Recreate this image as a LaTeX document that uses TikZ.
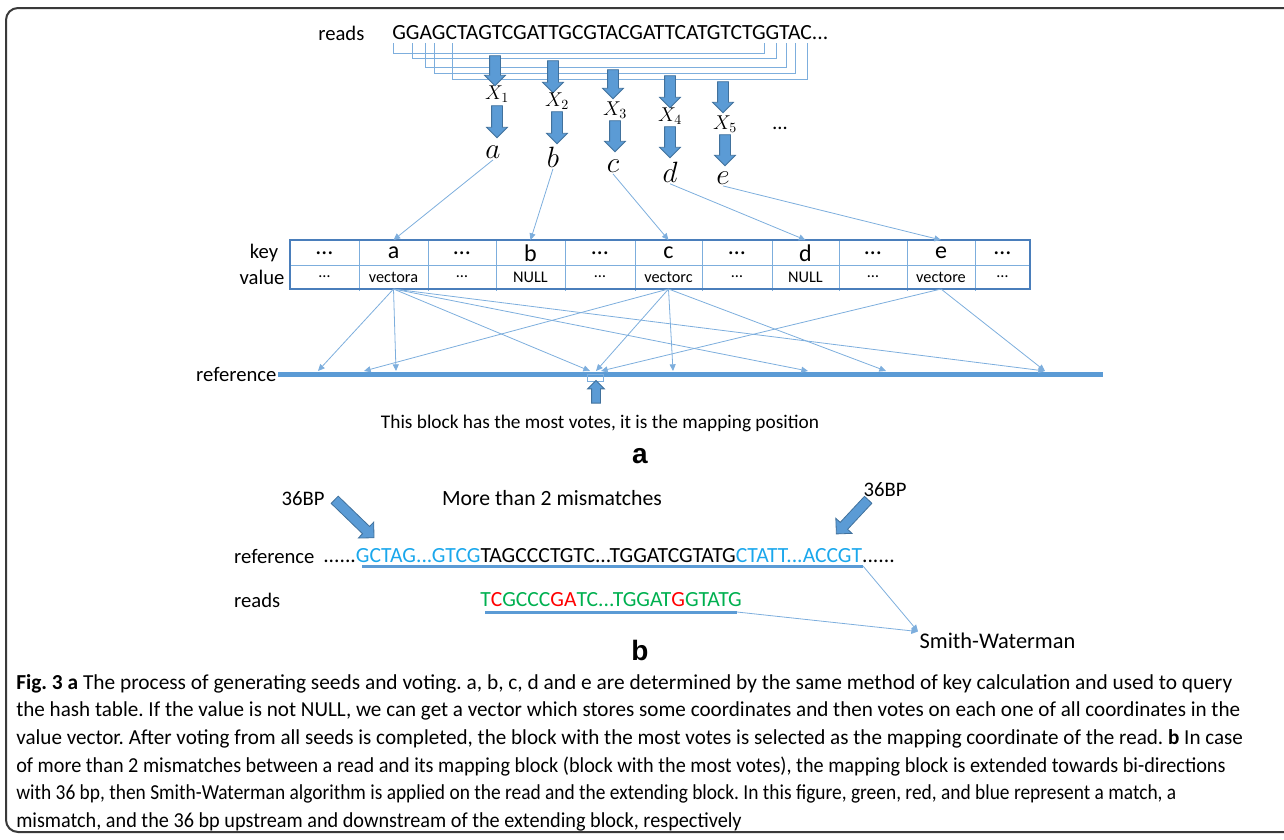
\RequirePackage{fix-cm}
\documentclass[tikz,border=0pt]{standalone}
\usepackage{fontspec}
\setmainfont{Carlito}
\newfontfamily\panelfont{Liberation Sans}
\usetikzlibrary{
  arrows.meta,
  shapes.arrows
}
\definecolor{arrowblue}{HTML}{5B9BD5}
\definecolor{arrowedge}{HTML}{41719C}
\definecolor{thinblue}{HTML}{7DAEDD}
\definecolor{tableblue}{HTML}{4A7EBB}
\definecolor{seqblue}{HTML}{1AA7EC}
\definecolor{matchgreen}{HTML}{00B050}
\definecolor{mismatchred}{HTML}{FF0000}
\definecolor{framegray}{HTML}{3A3A3A}
% one caption line, brought to the width it has in the figure
\newcommand\capline[2]{\resizebox{#1}{\height}{#2}}

\begin{document}
\frenchspacing
\begin{tikzpicture}[
  x=0.75pt, y=-0.75pt,
  txt/.style={inner sep=1pt, font=\fontsize{15.5}{18}\selectfont},
  seq/.style={inner sep=0pt, font=\fontsize{16.2}{19}\selectfont},
  seedlabel/.style={inner sep=1pt, font=\fontsize{15}{18}\selectfont},
  hit/.style={inner sep=1pt, font=\fontsize{22}{24}\selectfont},
  keycell/.style={inner sep=0pt, font=\fontsize{18}{20}\selectfont},
  valcell/.style={inner sep=0pt, font=\fontsize{12.2}{14}\selectfont},
  vote/.style={-{Triangle[length=5pt,width=4.5pt]}, draw=thinblue, line width=0.6pt},
  grid/.style={draw=thinblue, line width=0.6pt},
  fat/.style={single arrow, draw=arrowedge, fill=arrowblue, line width=0.6pt,
    inner xsep=0pt, inner ysep=3.75pt, minimum width=15pt, single arrow head extend=3.75pt},
  panel/.style={font=\panelfont\bfseries\fontsize{21}{24}\selectfont},
]
\useasboundingbox (0,0) rectangle (1284,839);
\draw[framegray, line width=1.5pt, rounded corners=9pt]
  (1290,8) -- (6,8) -- (6,832) -- (1290,832);

% seeds taken from the read
\node[txt, anchor=east] (readlab) at (366,33) {reads};
\node[seq, anchor=west] (reads) at (392,33)
  {GGAGCTAGTCGATTGCGTACGATTCATGTCTGGTAC...};
\foreach \l/\r/\y in {393/764/53, 412/776/58, 425/786/67, 434/795/73, 452/807/79}
  \draw[grid] (\l,43) |- (\r,\y) -- (\r,43);
\foreach \x/\ytop/\ybot [count=\i] in {495/53/83, 553/58/90, 613/67/96, 670/73/105, 723/79/110}
  \node[fat, rotate=-90, minimum height={(\ybot-\ytop)*0.75pt}] (up-\i) at (\x,{(\ytop+\ybot)/2}) {};
\foreach \x/\y [count=\i] in {497/94, 557/101, 615/110, 670/116, 725/124}
  \node[seedlabel] (x-\i) at (\x,\y) {$X_{\i}$};
\foreach \x/\ytop/\ybot [count=\i] in {497/103/135, 557/109/141, 615/118/149, 670/124/155, 725/132/163}
  \node[fat, rotate=-90, minimum height={(\ybot-\ytop)*0.75pt}] (down-\i) at (\x,{(\ytop+\ybot)/2}) {};
\foreach \c/\x/\y in {a/493/152, b/553/157, c/613/166, d/670/172, e/723/178}
  \node[hit] (\c) at (\x,\y) {$\c$};
\node[txt] (more) at (780,128) {\dots};

% hash table
\coordinate (tab-nw) at (290,240);
\coordinate (tab-se) at (1030,289);
\foreach \x in {359,428,496,565,635,702,772,839,907,975}
  \draw[grid] (\x,240) -- (\x,291);
\draw[grid] (290,265) -- (1030,265);
\draw[tableblue, line width=1.5pt] (tab-nw) rectangle (tab-se);
\foreach \k/\v/\x [count=\i] in {\dots/\dots/324.5, a/vectora/393.5, \dots/\dots/462,
    b/NULL/530.5, \dots/\dots/600, c/vectorc/668.5, \dots/\dots/737, d/NULL/805.5,
    \dots/\dots/873, e/vectore/941, \dots/\dots/1002.5} {
  \node[keycell] (key-\i) at (\x,253) {\k};
  \node[valcell] (val-\i) at (\x,277) {\v};
}
\node[txt] (keylab) at (264,253) {key};
\node[txt] (vallab) at (262,277) {value};
\foreach \c/\i in {a/2, b/4, c/6, d/8, e/10}
  \draw[vote] (\c.south) -- (key-\i |- tab-nw);

% votes on the reference
\coordinate (ref-w) at (278,374);
\coordinate (ref-e) at (1103,374);
\draw[arrowblue, line width=3.75pt] (ref-w) -- (ref-e);
\node[txt, anchor=east] (reflab) at (ref-w) {reference};
\foreach \n/\x in {p1/318, p2/364, p3/396, p4/590, p5/596, p6/601, p7/673, p8/808, p9/886, p10/1045}
  \coordinate (\n) at (\x,371);
\foreach \p in {p1,p3,p4,p8,p10}
  \draw[vote] (val-2 |- tab-se) -- (\p);
\foreach \p in {p2,p5,p7,p9}
  \draw[vote] (val-6 |- tab-se) -- (\p);
\foreach \p in {p6,p10}
  \draw[vote] (val-10 |- tab-se) -- (\p);
\node[draw=thinblue, line width=0.6pt, minimum width=12pt, minimum height=5pt, inner sep=0pt] (block) at (595,378) {};
\node[fat, rotate=90, minimum height=17pt, minimum width=12pt, inner ysep=3pt, single arrow head extend=3pt] (block-arrow) at (596,394) {};
\node[txt, font=\fontsize{14.5}{17}\selectfont] (most) at (600,423)
  {This block has the most votes, it is the mapping position};
\node[panel] (panel-a) at (640,456) {a};

% extension and Smith-Waterman
\node[txt] (bp-left) at (303,499) {36BP};
\node[txt] (bp-right) at (885,490) {36BP};
\node[txt, font=\fontsize{16.3}{19}\selectfont] (mism) at (552,498) {More than 2 mismatches};
\node[fat, rotate=-44, minimum height=41pt, minimum width=16pt, inner ysep=3.5pt, single arrow head extend=4.5pt] (bp-arrow-l) at (352.5,517) {};
\node[fat, rotate=-133, minimum height=35pt, minimum width=16pt, inner ysep=3.5pt, single arrow head extend=4.5pt] (bp-arrow-r) at (854,515) {};
\node[seq, anchor=west] (refseq) at (323,556)
  {......\textcolor{seqblue}{GCTAG...GTCG}TAGCCCTGTC...TGGATCGTATG\textcolor{seqblue}{CTATT...ACCGT}......};
\node[txt, anchor=east] (reflab-b) at (316,556) {reference};
\coordinate (ref-ul-w) at (362,566);
\coordinate (ref-ul-e) at (863,566);
\draw[arrowblue, line width=2.25pt] (ref-ul-w) -- (ref-ul-e);
\node[seq, anchor=west] (readseq) at (480,600)
  {\textcolor{matchgreen}{T}\textcolor{mismatchred}{C}\textcolor{matchgreen}{GCCC}\textcolor{mismatchred}{GA}\textcolor{matchgreen}{TC...TGGAT}\textcolor{mismatchred}{G}\textcolor{matchgreen}{GTATG}};
\node[txt, anchor=west] (readlab-b) at (reflab-b.west |- readseq) {reads};
\coordinate (read-ul-w) at (485,612);
\coordinate (read-ul-e) at (737,612);
\draw[arrowblue, line width=2.25pt] (read-ul-w) -- (read-ul-e);
\node[txt, font=\fontsize{16.8}{19}\selectfont, anchor=west] (sw) at (918,641) {Smith-Waterman};
\draw[vote] (ref-ul-e) -- (sw.north west);
\draw[vote] (read-ul-e) -- (sw.north west);
\node[panel] (panel-b) at (640,650) {b};

% caption
\node[anchor=north west, align=left, inner sep=0pt, font=\fontsize{16}{20.7}\selectfont] (caption) at (16,674)
  {\capline{912pt}{\textbf{Fig. 3 a} The process of generating seeds and voting. a, b, c, d and e are determined by the same method of key calculation and used to query}\\
   \capline{918pt}{the hash table. If the value is not NULL, we can get a vector which stores some coordinates and then votes on each one of all coordinates in the}\\
   \capline{920pt}{value vector. After voting from all seeds is completed, the block with the most votes is selected as the mapping coordinate of the read. \textbf{b} In case}\\
   \capline{907pt}{of more than 2 mismatches between a read and its mapping block (block with the most votes), the mapping block is extended towards bi-directions}\\
   \capline{870pt}{with 36 bp, then Smith-Waterman algorithm is applied on the read and the extending block. In this figure, green, red, and blue represent a match, a}\\
   \capline{544pt}{mismatch, and the 36 bp upstream and downstream of the extending block, respectively}};
\end{tikzpicture}
\end{document}
